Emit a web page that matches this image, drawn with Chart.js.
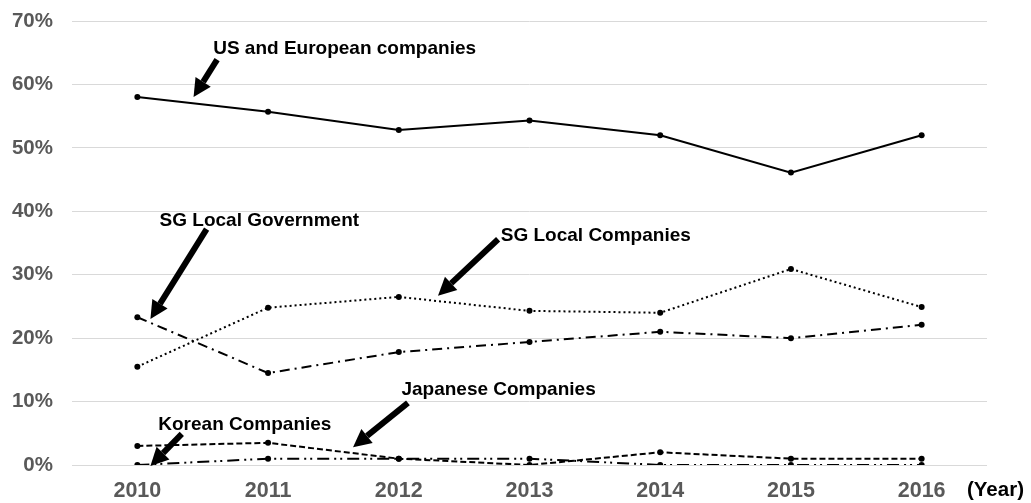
<!DOCTYPE html>
<html>
<head>
<meta charset="utf-8">
<script src="https://cdn.jsdelivr.net/npm/chart.js@4/dist/chart.umd.min.js"></script>
<style>
  html, body { margin: 0; padding: 0; background: #fff; }
  #wrap { width: 1031px; height: 503px; position: relative; }
</style>
</head>
<body>
<div id="wrap"><canvas id="grafico"></canvas></div>
<script>
// --- Dados ---
const anos = ['2010', '2011', '2012', '2013', '2014', '2015', '2016'];
const usEuropa = [58.0, 55.7, 52.8, 54.3, 52.0, 46.1, 52.0];
const sgEmpresas = [15.5, 24.8, 26.5, 24.3, 24.0, 30.9, 24.9];
const sgGoverno = [23.3, 14.5, 17.8, 19.4, 21.0, 20.0, 22.1];
const japonesas = [3.0, 3.5, 1.0, 0.0, 2.0, 1.0, 1.0];
const coreanas = [0.0, 1.0, 1.0, 1.0, 0.0, 0.0, 0.0];
const ticksY = [0, 10, 20, 30, 40, 50, 60, 70];

// Rótulos com seta: posição em coordenadas dos dados (índice da categoria, valor %)
const rotulos = [
    { texto: 'US and European companies', tx: 0.58, ty: 65.6, de: [0.61, 63.9], para: [0.43, 58.0] },
    { texto: 'SG Local Government', tx: 0.17, ty: 38.5, de: [0.53, 37.2], para: [0.10, 23.0] },
    { texto: 'SG Local Companies', tx: 2.78, ty: 36.1, de: [2.76, 35.6], para: [2.30, 26.7] },
    { texto: 'Japanese Companies', tx: 2.02, ty: 11.8, de: [2.07, 9.8], para: [1.65, 2.8] },
    { texto: 'Korean Companies', tx: 0.16, ty: 6.4, de: [0.34, 4.9], para: [0.10, -0.15] }
];

const corTexto = '#595959';
const corGrid = '#d9d9d9';
const fonte = 'Liberation Sans, Arial, sans-serif';

const serie = (dados, tracejado) => ({
    data: dados,
    borderColor: '#000',
    backgroundColor: '#000',
    borderWidth: 2,
    borderDash: tracejado,
    pointRadius: 3,
    pointBorderWidth: 0,
    tension: 0
});

// Plugin para desenhar os rótulos, as setas e o "(Year)"
const pluginRotulos = {
    id: 'rotulos',
    afterDatasetsDraw(chart) {
        const { ctx, scales: { x, y } } = chart;
        const x0 = x.getPixelForValue(0);
        const passo = x.getPixelForValue(1) - x0;
        const px = (i) => x0 + i * passo;

        ctx.save();
        ctx.fillStyle = '#000';
        ctx.strokeStyle = '#000';
        ctx.font = 'bold 19px ' + fonte;
        ctx.textBaseline = 'middle';
        ctx.textAlign = 'left';

        rotulos.forEach(r => {
            ctx.fillText(r.texto, px(r.tx), y.getPixelForValue(r.ty));

            const ax = px(r.de[0]), ay = y.getPixelForValue(r.de[1]);
            const bx = px(r.para[0]), by = y.getPixelForValue(r.para[1]);
            const ang = Math.atan2(by - ay, bx - ax);
            const cab = 18;
            const hx = bx - cab * Math.cos(ang), hy = by - cab * Math.sin(ang);

            ctx.lineWidth = 6;
            ctx.lineCap = 'butt';
            ctx.beginPath();
            ctx.moveTo(ax, ay);
            ctx.lineTo(hx, hy);
            ctx.stroke();

            ctx.beginPath();
            ctx.moveTo(bx, by);
            ctx.lineTo(hx + 9 * Math.sin(ang), hy - 9 * Math.cos(ang));
            ctx.lineTo(hx - 9 * Math.sin(ang), hy + 9 * Math.cos(ang));
            ctx.closePath();
            ctx.fill();
        });

        ctx.font = 'bold 20.5px ' + fonte;
        ctx.fillText('(Year)', 967, x.top + 25);
        ctx.restore();
    }
};

new Chart(document.getElementById('grafico'), {
    type: 'line',
    data: {
        labels: anos,
        datasets: [
            serie(usEuropa, []),
            serie(sgEmpresas, [2, 3]),
            serie(sgGoverno, [10, 5, 2, 5]),
            serie(japonesas, [6, 3]),
            serie(coreanas, [12, 5, 2, 4, 2, 5])
        ]
    },
    options: {
        responsive: true,
        maintainAspectRatio: false,
        animation: false,
        layout: { padding: { top: 21, right: 44, left: 0, bottom: 0 } },
        plugins: {
            legend: { display: false },
            tooltip: { enabled: false }
        },
        scales: {
            x: {
                offset: true,
                grid: { display: false, drawTicks: false },
                border: { display: false },
                ticks: { color: corTexto, font: { family: fonte, size: 21.5, weight: 'bold' }, padding: 13 },
                afterFit: (s) => { s.height = 38; s.paddingLeft = 0; s.paddingRight = 0; }
            },
            y: {
                min: 0,
                max: 70,
                afterBuildTicks: (s) => { s.ticks = ticksY.map(v => ({ value: v })); },
                grid: { color: corGrid, lineWidth: 1, drawTicks: false },
                border: { display: false },
                ticks: {
                    color: corTexto,
                    font: { family: fonte, size: 20.5, weight: 'bold' },
                    padding: 19,
                    callback: (v) => v + '%'
                },
                afterFit: (s) => { s.width = 72; s.paddingTop = 0; s.paddingBottom = 0; }
            }
        }
    },
    plugins: [pluginRotulos]
});
</script>
</body>
</html>
